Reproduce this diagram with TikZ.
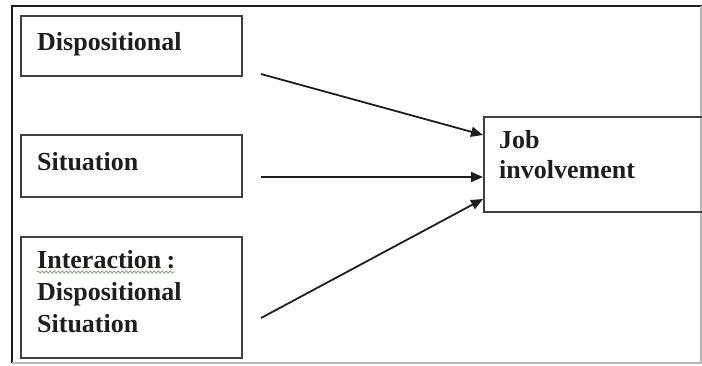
\documentclass[tikz,border=0pt]{standalone}
\usepackage{fontspec}
\setmainfont{Liberation Serif}
\usetikzlibrary{arrows.meta,calc,decorations.pathmorphing}
\definecolor{boxline}{HTML}{404040}
\definecolor{txt}{HTML}{1E1E1E}
\definecolor{framelight}{HTML}{B8B8B8}
\definecolor{squiggle}{HTML}{8FA08A}
\tikzset{
  box/.style={draw=boxline, line width=2pt, rectangle, inner sep=0pt, anchor=north west},
  lbl/.style={anchor=base west, inner sep=0pt, text=txt, font=\fontsize{26}{24.5}\selectfont\bfseries},
  arr/.style={draw=txt, line width=1.8pt, -{Triangle[length=12pt,width=10pt]}},
}
\begin{document}
\begin{tikzpicture}[x=1pt,y=-1pt]
\useasboundingbox (0,0) rectangle (702,365);
% outer frame
\draw[line width=1.6pt, draw=txt] (12,363) -- (12,6) -- (702,6);
\draw[line width=1.2pt, draw=framelight] (12,363) -- (701,363) -- (701,6);
% boxes
\node[box, minimum width=221pt, minimum height=60pt] (disp) at (20,15) {};
\node[box, minimum width=221pt, minimum height=62pt] (sit) at (20,134) {};
\node[box, minimum width=221pt, minimum height=121pt] (inter) at (20,236) {};
\node[box, minimum width=230pt, minimum height=95pt] (job) at (483,116) {};
% labels
\node[lbl] (tdisp) at (37,50) {Dispositional};
\node[lbl] (tsit) at (37,170) {Situation};
\node[lbl] (tint1) at (37,268) {Interaction\kern0.2em:};
\node[lbl] (tint2) at (37,300) {Dispositional};
\node[lbl] (tint3) at (37,332) {Situation};
\node[lbl] (tjob1) at (499,148) {Job};
\node[lbl] (tjob2) at (499,178) {involvement};
% spell-check squiggle
\draw[squiggle, line width=0.8pt, decorate, decoration={snake, amplitude=1pt, segment length=4pt}]
  ($(tint1.base west)+(0,4)$) -- ($(tint1.base east)+(0,4)$);
% connector ends
\coordinate (s1) at (261,74);
\coordinate (s2) at (261,177);
\coordinate (s3) at (261,318);
\coordinate (e1) at ($(job.north west)+(0,19)$);
\coordinate (e2) at ($(job.north west)+(0,61)$);
\coordinate (e3) at ($(job.north west)+(0,83)$);
\draw[arr] (s1) -- (e1);
\draw[arr] (s2) -- (e2);
\draw[arr] (s3) -- (e3);
\end{tikzpicture}
\end{document}
